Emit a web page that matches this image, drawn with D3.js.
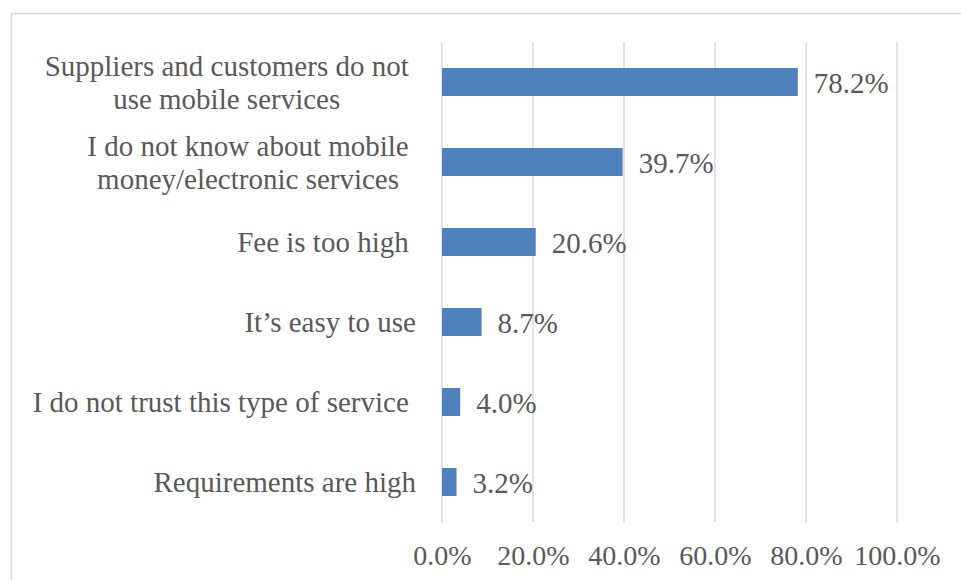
<!DOCTYPE html>
<html>
<head>
<meta charset="utf-8">
<script src="https://cdn.jsdelivr.net/npm/d3@7"></script>
<style>
  html, body { margin: 0; padding: 0; background: #fff; }
  svg text { font-family: "Liberation Serif", "Times New Roman", serif; fill: #595959; white-space: pre; }
</style>
</head>
<body>
<svg id="chart" width="961" height="580"></svg>
<script>
// Reasons for not using mobile money (share of respondents)
const categories = [
  "Suppliers and customers do not \nuse mobile services ",
  "I do not know about mobile \nmoney/electronic services ",
  "Fee is too high ",
  "It\u2019s easy to use",
  "I do not trust this type of service ",
  "Requirements are high"
];
const values = [0.782, 0.397, 0.206, 0.087, 0.040, 0.032];
const tickValues = [0, 0.2, 0.4, 0.6, 0.8, 1.0];

const data = categories.map((c, i) => ({ cat: c, value: values[i] }));

const svg = d3.select("#chart");
const W = 961, H = 580;
const labelSize = 29;
const tickSize = 28;
const grid = "#d9d9d9";

svg.append("rect").attr("width", W).attr("height", H).attr("fill", "#fff");

// chart frame (runs off the right and bottom edges)
svg.append("rect")
  .attr("x", 11.5).attr("y", 13.5)
  .attr("width", W + 20).attr("height", H + 20)
  .attr("fill", "none").attr("stroke", grid).attr("stroke-width", 1.5);

const plot = { left: 442, right: 897, top: 42, bottom: 522 };

const x = d3.scaleLinear().domain([0, 1]).range([plot.left, plot.right]);
const y = d3.scaleBand().domain(categories).range([plot.top, plot.bottom])
  .paddingInner(0.65).paddingOuter(0.325);

// vertical gridlines
svg.append("g").selectAll("line").data(tickValues).join("line")
  .attr("x1", d => x(d)).attr("x2", d => x(d))
  .attr("y1", plot.top).attr("y2", plot.bottom)
  .attr("stroke", grid).attr("stroke-width", 1.5);

// x axis labels
const xAxis = d3.axisBottom(x).tickValues(tickValues)
  .tickFormat(d3.format(".1%")).tickSize(0).tickPadding(0);
const gx = svg.append("g").attr("transform", `translate(0,${plot.bottom})`).call(xAxis);
gx.select(".domain").remove();
gx.selectAll("text")
  .attr("font-size", tickSize).attr("dy", null).attr("y", 43)
  .style("font-family", null).attr("fill", "#595959");

// bars
svg.append("g").selectAll("rect").data(data).join("rect")
  .attr("x", x(0)).attr("y", d => y(d.cat))
  .attr("width", d => x(d.value) - x(0)).attr("height", y.bandwidth())
  .attr("fill", "#4f81bd");

// value labels
svg.append("g").selectAll("text").data(data).join("text")
  .attr("x", d => x(d.value) + 16)
  .attr("y", d => y(d.cat) + y.bandwidth() / 2)
  .attr("dy", "0.38em")
  .attr("font-size", labelSize)
  .text(d => d3.format(".1%")(d.value));

// category labels: right-aligned block, wrapped lines centred within it
const labelRight = 416;
const lineH = 33;
const labels = svg.append("g");
data.forEach(d => {
  const lines = d.cat.split("\n");
  const cy = y(d.cat) + y.bandwidth() / 2;
  const g = labels.append("g");
  const ts = lines.map((ln, i) => g.append("text")
    .attr("font-size", labelSize)
    .attr("y", cy + (i - (lines.length - 1) / 2) * lineH)
    .attr("dy", "0.36em")
    .text(ln));
  const widths = ts.map(t => t.node().getComputedTextLength());
  const maxW = d3.max(widths);
  const mid = labelRight - maxW / 2;
  ts.forEach(t => t.attr("x", mid).attr("text-anchor", "middle"));
});
</script>
</body>
</html>
